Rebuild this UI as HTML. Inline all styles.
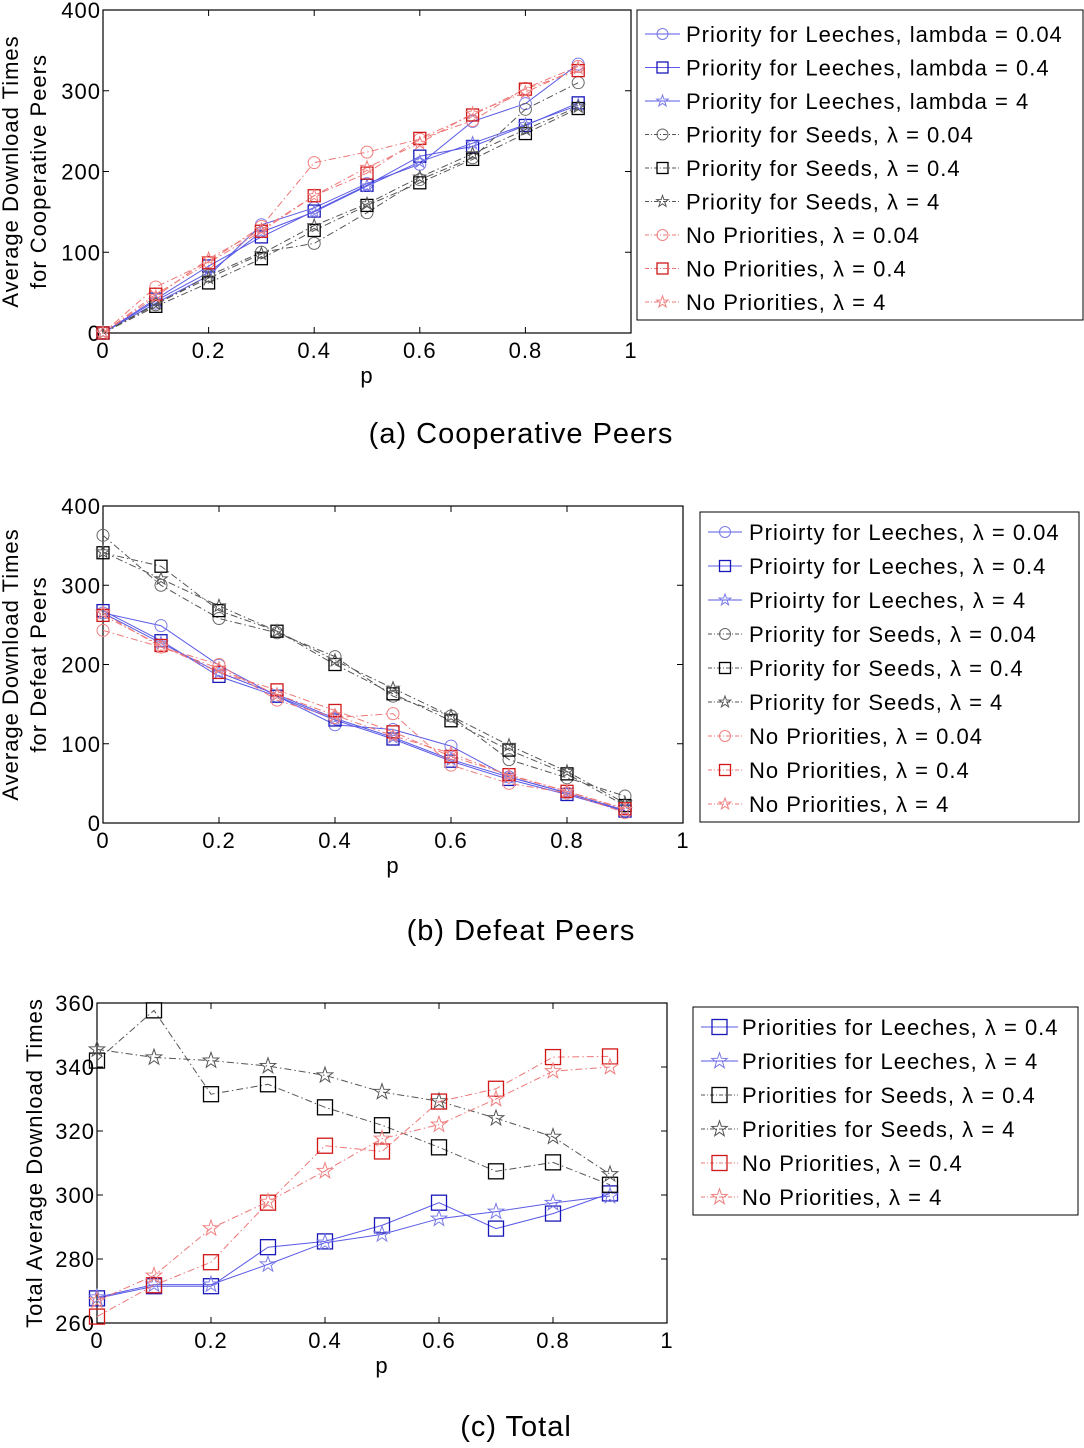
<!DOCTYPE html>
<html><head><meta charset="utf-8"><style>
body{margin:0;background:#fff}
svg text{font-family:"Liberation Sans",Arial,sans-serif;fill:#000;letter-spacing:1px}
</style></head><body>
<svg id="s" width="1084" height="1443" viewBox="0 0 1084 1443" xmlns="http://www.w3.org/2000/svg"></svg>
<script>
const pVals=[0,0.1,0.2,0.3,0.4,0.5,0.6,0.7,0.8,0.9];
// Chart (a) Cooperative Peers
const aLeech004=[0,37,71,134,155,185,209,262,284,333];
const aLeech04=[0,42,83,119,151,183,219,231,257,285];
const aLeech4=[0,40,75,125,150,182,212,235,258,282];
const aSeed004=[0,35,71,100,111,149,190,217,277,310];
const aSeed04=[0,33,62,92,127,158,186,215,247,278];
const aSeed4=[0,36,68,98,133,160,193,222,252,280];
const aNo004=[0,57,88,132,211,224,240,263,303,330];
const aNo04=[0,48,87,126,170,198,241,270,302,325];
const aNo4=[0,45,92,128,170,205,235,272,298,328];
// Chart (b) Defeat Peers
const bLeech004=[265,249,199,160,124,118,97,58,38,15];
const bLeech04=[268,230,185,160,130,106,78,55,36,15];
const bLeech4=[265,227,190,162,132,108,80,58,38,16];
const bSeed004=[363,300,258,240,210,160,135,80,57,34];
const bSeed04=[341,324,268,242,200,163,129,92,62,22];
const bSeed4=[342,308,274,242,205,170,135,98,65,25];
const bNo004=[243,222,200,155,133,138,73,50,38,13];
const bNo04=[262,224,190,168,142,115,84,61,40,18];
const bNo4=[265,222,195,162,136,110,88,60,40,17];
// Chart (c) Total
const cLeech04=[267.7,271.5,271.5,283.7,285.5,290.5,297.6,289.5,294.2,300.5];
const cLeech4=[268,272,272,278.3,285.1,287.7,292.6,294.8,297.5,299.7];
const cSeed04=[342,357.7,331.5,334.6,327.4,321.8,314.9,307.4,310.2,303.2];
const cSeed4=[345.5,343,342,340.3,337.4,332.2,329.3,324,318.2,306.5];
const cNo04=[262,271.8,279,297.6,315.4,313.6,329.2,333.2,343.1,343.3];
const cNo4=[267,274.8,289.6,297.9,307.5,317.6,322,330,338.7,340];
const xTicks=[0,0.2,0.4,0.6,0.8,1];
const xTickLabels=["0","0.2","0.4","0.6","0.8","1"];
const aTicks=[0,100,200,300,400];
const bTicks=[0,100,200,300,400];
const cTicks=[260,280,300,320,340,360];

const S=document.getElementById('s');
const NS='http://www.w3.org/2000/svg';
function mk(tag,attrs,parent){const e=document.createElementNS(NS,tag);for(const k in attrs)e.setAttribute(k,attrs[k]);(parent||S).appendChild(e);return e;}
function txt(x,y,s,size,anchor,parent){const t=mk('text',{x:x,y:y,'font-size':size,'text-anchor':anchor||'start'},parent);t.textContent=s;return t;}

const BL='#5a5ae6',BK='#555',RD='#ee7777';
const styles={
 l004:{c:BL,dash:'',m:'o',mc:'#7a7ae8'},
 l04:{c:BL,dash:'',m:'s',mc:'#1818b8'},
 l4:{c:BL,dash:'',m:'*',mc:'#7a7ae8'},
 s004:{c:BK,dash:'7,3,1.5,3',m:'o',mc:'#666'},
 s04:{c:BK,dash:'7,3,1.5,3',m:'s',mc:'#000'},
 s4:{c:BK,dash:'7,3,1.5,3',m:'*',mc:'#555'},
 n004:{c:RD,dash:'7,3,1.5,3',m:'o',mc:'#f08080'},
 n04:{c:RD,dash:'7,3,1.5,3',m:'s',mc:'#d01818'},
 n4:{c:RD,dash:'7,3,1.5,3',m:'*',mc:'#f08080'}
};
function marker(g,type,x,y,sz,col){
 if(type==='o')return mk('circle',{cx:x,cy:y,r:sz/2,fill:'none',stroke:col,'stroke-width':1},g);
 if(type==='s')return mk('rect',{x:x-sz/2,y:y-sz/2,width:sz,height:sz,fill:'none',stroke:col,'stroke-width':1.3},g);
 let pts=[];for(let i=0;i<10;i++){const r=i%2?sz*0.22:sz*0.55;const a=-Math.PI/2+i*Math.PI/5;pts.push((x+r*Math.cos(a)).toFixed(1)+','+(y+r*Math.sin(a)).toFixed(1));}
 return mk('polygon',{points:pts.join(' '),fill:'none',stroke:col,'stroke-width':1},g);
}
function chart(cfg){
 const g=mk('g',{});
 
 
 const X=v=>cfg.x0+(v-0)*(cfg.x1-cfg.x0);
 const Y=v=>cfg.y1-(v-cfg.ymin)/(cfg.ymax-cfg.ymin)*(cfg.y1-cfg.y0);
 const pa=mk('rect',{x:cfg.x0,y:cfg.y0,width:cfg.x1-cfg.x0,height:cfg.y1-cfg.y0,fill:'#fff',stroke:'#000','stroke-width':1.2},g);
 
 xTicks.forEach((v,i)=>{const x=X(v);
  mk('line',{x1:x,x2:x,y1:cfg.y1,y2:cfg.y1-6,stroke:'#000'},g);mk('line',{x1:x,x2:x,y1:cfg.y0,y2:cfg.y0+6,stroke:'#000'},g);
  const t=txt(x,cfg.y1+25,xTickLabels[i],22,'middle',g);});
 cfg.yt.forEach(v=>{const y=Y(v);
  mk('line',{x1:cfg.x0,x2:cfg.x0+6,y1:y,y2:y,stroke:'#000'},g);mk('line',{x1:cfg.x1,x2:cfg.x1-6,y1:y,y2:y,stroke:'#000'},g);
  const t=txt(cfg.x0-2,y+8,String(v),22,'end',g);});
 const xl=txt((cfg.x0+cfg.x1)/2,cfg.y1+50,'p',22,'middle',g);
 cfg.ylab.forEach((s,i)=>{const t=txt(0,0,s,22,'middle',g);t.setAttribute('transform','translate('+cfg.ylx[i]+','+((cfg.y0+cfg.y1)/2)+') rotate(-90)');});
 cfg.series.forEach(se=>{const st=styles[se.st];
  const sg=mk('g',{},g);
  const d=se.v.map((v,i)=>(i?'L':'M')+X(pVals[i]).toFixed(1)+','+Y(v).toFixed(1)).join(' ');
  const ln=mk('path',{d:d,fill:'none',stroke:st.c,'stroke-width':1,'stroke-dasharray':st.dash},sg);
  
  se.v.forEach((v,i)=>{const m=marker(sg,st.m,X(pVals[i]),Y(v),cfg.ms,st.mc);});
 });
 const L=cfg.leg;
 const lg=mk('g',{},g);
 mk('rect',{x:L.x,y:L.y,width:L.w,height:L.h,fill:'#fff',stroke:'#000','stroke-width':1},lg);
 cfg.series.forEach((se,i)=>{const st=styles[se.st];const y=L.y+L.first+i*L.dy;
  const eg=mk('g',{},lg);
  mk('line',{x1:L.x+L.s0,x2:L.x+L.s1,y1:y,y2:y,stroke:st.c,'stroke-width':1,'stroke-dasharray':st.dash?'4,2,1,2':''},eg);
  marker(eg,st.m,L.x+(L.s0+L.s1)/2,y,cfg.lms,st.mc);
  txt(L.x+L.tx,y+8,se.label,22,'start',eg);});
 const cap=txt(cfg.capx,cfg.capy,cfg.cap,29,'middle',g);
}
const lam='\u03bb';
chart({name:'chart-cooperative-peers',x0:103,x1:631,y0:10,y1:333,ymin:0,ymax:400,yt:aTicks,ms:12,lms:11,
 ylab:['Average Download Times','for Cooperative Peers'],ylx:[18,46],
 cap:'(a)  Cooperative Peers',capx:521,capy:443,
 leg:{x:637,y:10,w:446,h:310,first:24,dy:33.5,s0:8,s1:43,tx:49},
 series:[
 {id:'leech-004',st:'l004',v:aLeech004,label:'Priority for Leeches, lambda = 0.04'},
 {id:'leech-04',st:'l04',v:aLeech04,label:'Priority for Leeches, lambda = 0.4'},
 {id:'leech-4',st:'l4',v:aLeech4,label:'Priority for Leeches, lambda = 4'},
 {id:'seed-004',st:'s004',v:aSeed004,label:'Priority for Seeds, '+lam+' = 0.04'},
 {id:'seed-04',st:'s04',v:aSeed04,label:'Priority for Seeds, '+lam+' = 0.4'},
 {id:'seed-4',st:'s4',v:aSeed4,label:'Priority for Seeds, '+lam+' = 4'},
 {id:'nopri-004',st:'n004',v:aNo004,label:'No Priorities, '+lam+' = 0.04'},
 {id:'nopri-04',st:'n04',v:aNo04,label:'No Priorities, '+lam+' = 0.4'},
 {id:'nopri-4',st:'n4',v:aNo4,label:'No Priorities, '+lam+' = 4'}]});
chart({name:'chart-defeat-peers',x0:103,x1:683,y0:506,y1:823,ymin:0,ymax:400,yt:bTicks,ms:12,lms:11,
 ylab:['Average Download Times','for Defeat Peers'],ylx:[18,46],
 cap:'(b)  Defeat Peers',capx:521,capy:940,
 leg:{x:700,y:512,w:379,h:310,first:20,dy:34,s0:8,s1:42,tx:49},
 series:[
 {id:'leech-004',st:'l004',v:bLeech004,label:'Prioirty for Leeches, '+lam+' = 0.04'},
 {id:'leech-04',st:'l04',v:bLeech04,label:'Prioirty for Leeches, '+lam+' = 0.4'},
 {id:'leech-4',st:'l4',v:bLeech4,label:'Prioirty for Leeches, '+lam+' = 4'},
 {id:'seed-004',st:'s004',v:bSeed004,label:'Priority for Seeds, '+lam+' = 0.04'},
 {id:'seed-04',st:'s04',v:bSeed04,label:'Priority for Seeds, '+lam+' = 0.4'},
 {id:'seed-4',st:'s4',v:bSeed4,label:'Priority for Seeds, '+lam+' = 4'},
 {id:'nopri-004',st:'n004',v:bNo004,label:'No Priorities, '+lam+' = 0.04'},
 {id:'nopri-04',st:'n04',v:bNo04,label:'No Priorities, '+lam+' = 0.4'},
 {id:'nopri-4',st:'n4',v:bNo4,label:'No Priorities, '+lam+' = 4'}]});
chart({name:'chart-total',x0:97,x1:667,y0:1003,y1:1323,ymin:260,ymax:360,yt:cTicks,ms:15,lms:15,
 ylab:['Total Average Download Times'],ylx:[42],
 cap:'(c)  Total',capx:516,capy:1436,
 leg:{x:693,y:1007,w:385,h:208,first:20,dy:34,s0:8,s1:45,tx:49},
 series:[
 {id:'leech-04',st:'l04',v:cLeech04,label:'Priorities for Leeches, '+lam+' = 0.4'},
 {id:'leech-4',st:'l4',v:cLeech4,label:'Priorities for Leeches, '+lam+' = 4'},
 {id:'seed-04',st:'s04',v:cSeed04,label:'Priorities for Seeds, '+lam+' = 0.4'},
 {id:'seed-4',st:'s4',v:cSeed4,label:'Priorities for Seeds, '+lam+' = 4'},
 {id:'nopri-04',st:'n04',v:cNo04,label:'No Priorities, '+lam+' = 0.4'},
 {id:'nopri-4',st:'n4',v:cNo4,label:'No Priorities, '+lam+' = 4'}]});
</script>
</body></html>
